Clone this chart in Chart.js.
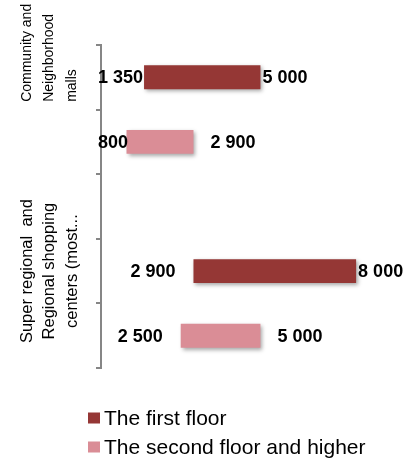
<!DOCTYPE html>
<html>
<head>
<meta charset="utf-8">
<title>Floor rents</title>
<script src="https://cdn.jsdelivr.net/npm/chart.js@4.4.1/dist/chart.umd.min.js"></script>
<style>
  html, body { margin: 0; padding: 0; background: #fff; }
  #wrap { width: 416px; height: 460px; position: relative; }
</style>
</head>
<body>
<div id="wrap"><canvas id="rentChart"></canvas></div>
<script>
// slots on the category axis (the middle one is an empty spacer)
const slots = ['Community first', 'Community second', '', 'Super regional first', 'Super regional second'];

// group labels, already wrapped the way the picture shows them
const groupLabels = [
    ['Community and', 'Neighborhood', 'malls'],
    ['Super regional  and', 'Regional shopping', 'centers (most...']
];
// where each group label sits, as a slot index
const groupAnchors = [0.38, 3];

const seriesNames = ['The first floor', 'The second floor and higher'];
const firstFloor = [[1350, 5000], null, null, [2900, 8000], null];
const secondFloor = [null, [800, 2900], null, null, [2500, 5000]];

const FONT = '"Liberation Sans", Arial, sans-serif';
const groupStyle = [
    { size: 14, align: 'left' },
    { size: 16.5, align: 'center' }
];

function fmt(v) {
    return String(v).replace(/\B(?=(\d{3})+(?!\d))/g, ' ');
}

// soft drop shadow under the bars
const barShadow = {
    id: 'barShadow',
    beforeDatasetsDraw(chart) {
        const ctx = chart.ctx;
        ctx.save();
        ctx.shadowColor = 'rgba(0,0,0,0.35)';
        ctx.shadowBlur = 4;
        ctx.shadowOffsetX = 2;
        ctx.shadowOffsetY = 2;
    },
    afterDatasetsDraw(chart) {
        chart.ctx.restore();
    }
};

// start / end value next to every bar
const rangeLabels = {
    id: 'rangeLabels',
    afterDatasetsDraw(chart) {
        const ctx = chart.ctx;
        const minLeft = chart.chartArea.left - 3;
        ctx.save();
        ctx.font = 'bold 18px ' + FONT;
        ctx.fillStyle = '#000';
        ctx.textBaseline = 'middle';
        ctx.textAlign = 'left';
        chart.data.datasets.forEach((ds, i) => {
            const meta = chart.getDatasetMeta(i);
            meta.data.forEach((bar, j) => {
                const v = ds.data[j];
                if (!v) return;
                const p = bar.getProps(['x', 'y', 'base'], true);
                const startText = fmt(v[0]);
                const w = ctx.measureText(startText).width;
                let left = p.base - ds.gapStart - w;
                if (left < minLeft) left = minLeft;
                ctx.fillText(startText, left, p.y + 1);
                ctx.fillText(fmt(v[1]), p.x + ds.gapEnd, p.y + 1);
            });
        });
        ctx.restore();
    }
};

// rotated group names left of the axis
const groupNames = {
    id: 'groupNames',
    afterDraw(chart) {
        const ctx = chart.ctx;
        const yScale = chart.scales.y;
        ctx.save();
        ctx.fillStyle = '#000';
        ctx.textBaseline = 'middle';
        groupLabels.forEach((lines, g) => {
            const y = yScale.getPixelForValue(groupAnchors[g]);
            ctx.font = groupStyle[g].size + 'px ' + FONT;
            ctx.textAlign = groupStyle[g].align;
            lines.forEach((line, k) => {
                ctx.save();
                ctx.translate(27 + k * 22.5, y);
                ctx.rotate(-Math.PI / 2);
                ctx.fillText(line, 0, 0);
                ctx.restore();
            });
        });
        ctx.restore();
    }
};

// legend as a left-aligned column under the plot
const columnLegend = {
    id: 'columnLegend',
    afterDraw(chart) {
        const ctx = chart.ctx;
        const top = chart.chartArea.bottom + 50;
        ctx.save();
        ctx.font = '21px ' + FONT;
        ctx.textBaseline = 'middle';
        ctx.textAlign = 'left';
        chart.data.datasets.forEach((ds, i) => {
            const y = top + i * 29;
            ctx.fillStyle = ds.backgroundColor;
            ctx.fillRect(88, y - 5.5, 12, 11);
            ctx.fillStyle = '#000';
            ctx.fillText(ds.label, 104, y + 1);
        });
        ctx.restore();
    }
};

new Chart(document.getElementById('rentChart'), {
    type: 'bar',
    data: {
        labels: slots,
        datasets: [
            {
                label: seriesNames[0],
                data: firstFloor,
                backgroundColor: '#953735',
                gapStart: 18,
                gapEnd: 2
            },
            {
                label: seriesNames[1],
                data: secondFloor,
                backgroundColor: '#da8d96',
                gapStart: 18,
                gapEnd: 17
            }
        ]
    },
    options: {
        indexAxis: 'y',
        responsive: true,
        maintainAspectRatio: false,
        animation: false,
        grouped: false,
        barPercentage: 0.37,
        categoryPercentage: 1,
        borderWidth: 0,
        layout: { padding: { left: 96, right: 28, top: 45, bottom: 92 } },
        plugins: {
            legend: { display: false },
            tooltip: { enabled: false }
        },
        scales: {
            x: { display: false, min: 0, max: 9000 },
            y: {
                offset: true,
                ticks: { display: false },
                grid: {
                    offset: true,
                    drawOnChartArea: false,
                    drawTicks: true,
                    tickLength: 5,
                    color: '#868686',
                    lineWidth: 2
                },
                border: { display: true, color: '#868686', width: 2 },
                afterFit(scale) { scale.width = 5; }
            }
        }
    },
    plugins: [barShadow, rangeLabels, groupNames, columnLegend]
});
</script>
</body>
</html>
